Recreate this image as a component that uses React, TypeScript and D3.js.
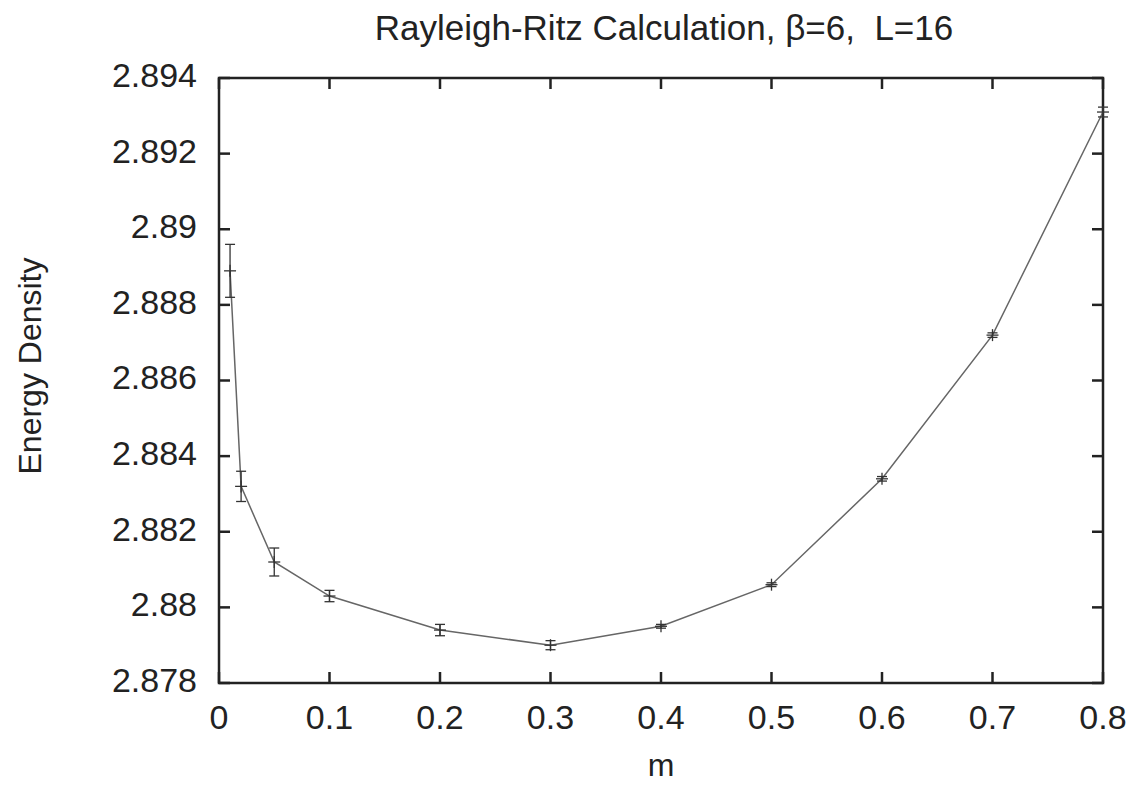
import React from "react";
import * as d3 from "d3";

const mValues = [0.01, 0.02, 0.05, 0.1, 0.2, 0.3, 0.4, 0.5, 0.6, 0.7, 0.8];
const energy = [2.8889, 2.8832, 2.8812, 2.8803, 2.8794, 2.879, 2.8795, 2.8806, 2.8834, 2.8872, 2.8931];
const errors = [0.0007, 0.0004, 0.00037, 0.00015, 0.00015, 0.00012, 0.00005, 0.00005, 0.00006, 0.00006, 0.00013];
const xTicks = [0, 0.1, 0.2, 0.3, 0.4, 0.5, 0.6, 0.7, 0.8];
const yTicks = [2.878, 2.88, 2.882, 2.884, 2.886, 2.888, 2.89, 2.892, 2.894];
const yTickLabels = ["2.878", "2.88", "2.882", "2.884", "2.886", "2.888", "2.89", "2.892", "2.894"];
const xTickLabels = ["0", "0.1", "0.2", "0.3", "0.4", "0.5", "0.6", "0.7", "0.8"];
const title = "Rayleigh-Ritz Calculation, \u03b2=6,  L=16";

const W = 1136;
const H = 785;
const left = 219;
const right = 1103;
const top = 78;
const bottom = 683;
const font = "'Liberation Sans', Arial, Helvetica, sans-serif";

export default function App() {
  const x = d3.scaleLinear().domain([0, 0.8]).range([left, right]);
  const y = d3.scaleLinear().domain([2.878, 2.894]).range([bottom, top]);
  const pts = mValues.map((m, i) => ({ m, e: energy[i], err: errors[i] }));
  const line = d3
    .line<{ m: number; e: number }>()
    .x((d) => x(d.m))
    .y((d) => y(d.e));
  const tickLen = 11;
  const cap = 5;
  const mk = 6;
  return (
    <svg
      width={W}
      height={H}
      style={{ position: "absolute", left: 0, top: 0, background: "#fff" }}
      fontFamily={font}
    >
      <rect x={0} y={0} width={W} height={H} fill="#fff" />
      <text
        x={664}
        y={31}
        fontSize={35}
        textAnchor="middle"
        dominantBaseline="middle"
        fill="#222"
        style={{ whiteSpace: "pre" }}
      >
        {title}
      </text>
      {yTicks.map((t, i) => (
        <g key={"y" + i}>
          <line x1={left} x2={left + tickLen} y1={y(t)} y2={y(t)} stroke="#222" strokeWidth={2.5} />
          <line x1={right} x2={right - tickLen} y1={y(t)} y2={y(t)} stroke="#222" strokeWidth={2.5} />
          <text
            x={197}
            y={y(t)}
            fontSize={34}
            textAnchor="end"
            dominantBaseline="middle"
            fill="#222"
          >
            {yTickLabels[i]}
          </text>
        </g>
      ))}
      {xTicks.map((t, i) => (
        <g key={"x" + i}>
          <line x1={x(t)} x2={x(t)} y1={bottom} y2={bottom - tickLen} stroke="#222" strokeWidth={2.5} />
          <line x1={x(t)} x2={x(t)} y1={top} y2={top + tickLen} stroke="#222" strokeWidth={2.5} />
          <text
            x={x(t)}
            y={720}
            fontSize={34}
            textAnchor="middle"
            dominantBaseline="middle"
            fill="#222"
          >
            {xTickLabels[i]}
          </text>
        </g>
      ))}
      <rect
        x={left}
        y={top}
        width={right - left}
        height={bottom - top}
        fill="none"
        stroke="#222"
        strokeWidth={2.5}
      />
      <path d={line(pts) || ""} fill="none" stroke="#666" strokeWidth={1.5} />
      {pts.map((p, i) => {
        const cx = x(p.m);
        const cy = y(p.e);
        const y1 = y(p.e + p.err);
        const y2 = y(p.e - p.err);
        return (
          <g key={"p" + i} stroke="#333" strokeWidth={1.3}>
            <line x1={cx} x2={cx} y1={y1} y2={y2} />
            <line x1={cx - cap} x2={cx + cap} y1={y1} y2={y1} />
            <line x1={cx - cap} x2={cx + cap} y1={y2} y2={y2} />
            <line x1={cx - mk} x2={cx + mk} y1={cy} y2={cy} />
            <line x1={cx} x2={cx} y1={cy - mk} y2={cy + mk} />
          </g>
        );
      })}
      <text
        x={661}
        y={768}
        fontSize={32}
        textAnchor="middle"
        dominantBaseline="middle"
        fill="#222"
      >
        m
      </text>
      <text
        transform="translate(33,366) rotate(-90)"
        fontSize={32}
        textAnchor="middle"
        dominantBaseline="middle"
        fill="#222"
      >
        Energy Density
      </text>
    </svg>
  );
}
